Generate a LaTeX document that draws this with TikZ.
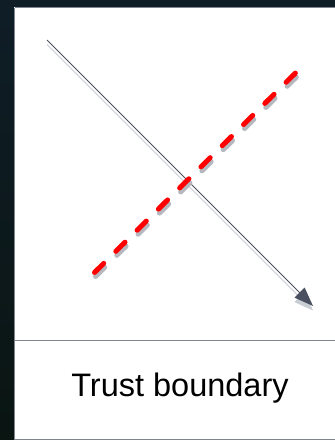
\documentclass[tikz,border=0pt]{standalone}
\usepackage{fontspec}
\setmainfont{Liberation Sans}
\usetikzlibrary{arrows.meta}
\definecolor{bgtop}{HTML}{0F1D27}
\definecolor{bgbot}{HTML}{0A1512}
\definecolor{frame}{HTML}{80848E}
\definecolor{flow}{HTML}{4A5060}
\definecolor{flowshadow}{HTML}{C9CDD4}
\definecolor{tbred}{HTML}{FF0000}
\definecolor{tbshadow}{HTML}{B5B8BF}
\tikzset{
  flowline/.style={draw=flow, line width=1pt, -{Triangle[length=19pt,width=14pt]}},
  flowshadowline/.style={draw=flowshadow, line width=1pt, -{Triangle[length=19pt,width=14pt]}},
  boundary/.style={draw=tbred, line width=5pt, line cap=round, dash pattern=on 13pt off 17pt},
  boundaryshadow/.style={draw=tbshadow, line width=5pt, line cap=round, dash pattern=on 13pt off 17pt},
  panelline/.style={draw=frame, line width=1.5pt},
  label/.style={font=\fontsize{32.5pt}{36pt}\selectfont, text=black, inner sep=0pt}
}
\begin{document}
\begin{tikzpicture}[x=1pt,y=-1pt]
\useasboundingbox (0,0) rectangle (335,440);
\shade[top color=bgtop, bottom color=bgbot] (0,0) rectangle (335,440);
\fill[white] (14,7) rectangle (335,440);
\draw[panelline] (14.5,7.5) -- (335,7.5);
\draw[panelline] (14.5,7.5) -- (14.5,440);
\coordinate (divl) at (14,340.5);
\coordinate (divr) at (335,340.5);
\draw[panelline] (divl) -- (divr);
\coordinate (botl) at (14,439.3);
\coordinate (botr) at (335,439.3);
\draw[panelline] (botl) -- (botr);
% flow arrow
\coordinate (fs) at (47,40);
\coordinate (fe) at (313,306);
\coordinate (fss) at (47,44.5);
\coordinate (fes) at (313,310.5);
\draw[flowshadowline] (fss) -- (fes);
\draw[flowline] (fs) -- (fe);
% trust boundary
\coordinate (ts) at (94.5,272.5);
\coordinate (te) at (298.5,70);
\coordinate (tss) at (95.5,276.5);
\coordinate (tes) at (299.5,74);
\draw[boundaryshadow] (tss) -- (tes);
\draw[boundary] (ts) -- (te);
\node[label] (lbl) at (180,388) {Trust boundary};
\end{tikzpicture}
\end{document}
